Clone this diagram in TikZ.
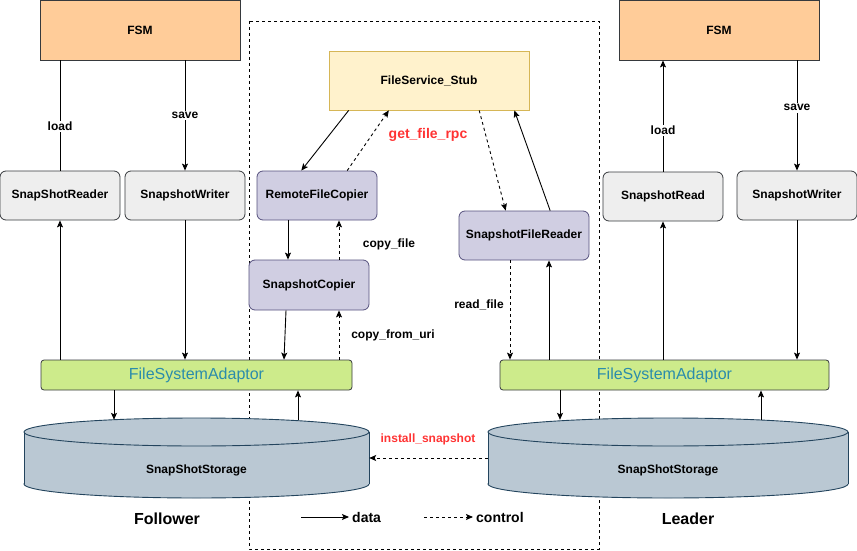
\documentclass[tikz,border=0pt]{standalone}
\usepackage{fontspec}
\setmainfont{Liberation Sans}
\usetikzlibrary{arrows.meta,calc}

\definecolor{fsmfill}{HTML}{FFCC99}
\definecolor{darkline}{HTML}{36393D}
\definecolor{greyfill}{HTML}{EEEEEE}
\definecolor{copyfill}{HTML}{D0CEE2}
\definecolor{copyline}{HTML}{56517E}
\definecolor{stubfill}{HTML}{FFF2CC}
\definecolor{stubline}{HTML}{D6B656}
\definecolor{fsafill}{HTML}{CDEB8B}
\definecolor{fsatext}{HTML}{2B8CAB}
\definecolor{storefill}{HTML}{BAC8D3}
\definecolor{storeline}{HTML}{23445D}
\definecolor{rpcred}{HTML}{FF3333}

\tikzset{
  box/.style={draw=darkline, line width=0.8pt, inner sep=0pt, align=center},
  fsm/.style={box, fill=fsmfill, minimum width=200, minimum height=60},
  grey/.style={box, fill=greyfill, rounded corners=6pt, minimum width=120, minimum height=49},
  copybox/.style={box, draw=copyline, fill=copyfill, rounded corners=6pt, minimum width=120, minimum height=49},
  stubbox/.style={box, draw=stubline, fill=stubfill, minimum width=200, minimum height=59},
  fsa/.style={box, fill=fsafill, rounded corners=3pt, minimum height=30, text=fsatext,
    font=\fontsize{16}{18}\selectfont},
  store/.style={inner sep=0pt, minimum height=76},
  data/.style={-{Stealth[length=7pt,width=6pt,inset=1.5pt]}, line width=0.9pt},
  ctrl/.style={data, dash pattern=on 3pt off 3pt},
  lbl/.style={fill=white, inner sep=1.5pt},
  rpclbl/.style={text=rpcred},
  legend/.style={font=\fontsize{14}{16}\selectfont\bfseries, inner sep=3pt},
  side/.style={font=\fontsize{16}{18}\selectfont\bfseries}
}

\begin{document}
\begin{tikzpicture}[x=1pt, y=-1pt, every node/.style={font=\fontsize{12}{14}\selectfont\bfseries}]
\useasboundingbox (0,0) rectangle (857,551);

\draw[dash pattern=on 3pt off 3pt, line width=0.8pt] (249,21) rectangle (599,549);

% storage cylinders
\foreach \cx/\rx in {196.5/172.5, 668/180}{
  \filldraw[fill=storefill, draw=storeline, line width=0.9pt] (\cx,484) ellipse[x radius=\rx, y radius=14];
  \fill[storefill] (\cx-\rx,432) rectangle (\cx+\rx,484);
  \draw[storeline, line width=0.9pt] (\cx-\rx,432) -- (\cx-\rx,484) (\cx+\rx,432) -- (\cx+\rx,484);
  \filldraw[fill=storefill, draw=storeline, line width=0.9pt] (\cx,432) ellipse[x radius=\rx, y radius=14];
}
\node[store, minimum width=345, label={[yshift=-12pt]center:SnapShotStorage}] (storeL) at (196.5,458) {};
\node[store, minimum width=360, label={[yshift=-12pt]center:SnapShotStorage}] (storeR) at (668,458) {};

\node[fsm] (fsmL) at (140,30) {FSM};
\node[fsm] (fsmR) at (719,30) {FSM};
\node[grey] (readL) at (60,195.5) {SnapShotReader};
\node[grey] (writeL) at (185,195.5) {SnapshotWriter};
\node[grey] (readR) at (663,196.5) {SnapshotRead};
\node[grey] (writeR) at (797,195.5) {SnapshotWriter};
\node[stubbox] (stub) at (429,80.5) {FileService\_Stub};
\node[copybox] (remote) at (317,195.5) {RemoteFileCopier};
\node[copybox, minimum height=50] (copier) at (309,285) {SnapshotCopier};
\node[copybox, minimum width=130] (freader) at (524,235.5) {SnapshotFileReader};
\node[fsa, minimum width=311] (fsaL) at (196.5,375) {FileSystemAdaptor};
\node[fsa, minimum width=329] (fsaR) at (664.5,375) {FileSystemAdaptor};

% follower
\draw[line width=0.9pt] (readL.north) -- (readL.north |- fsmL.south) node[lbl, pos=0.4] {load};
\draw[data] (fsmL.south -| writeL) -- (writeL.north) node[lbl, midway] {save};
\draw[data] (readL.south |- fsaL.north) -- (readL.south);
\draw[data] (writeL.south) -- (writeL.south |- fsaL.north);
\draw[data] ([xshift=-82.5pt]fsaL.south) -- ([xshift=-82.5pt]fsaL.south |- storeL.north);
\draw[data] ([xshift=101.5pt]fsaL.south |- storeL.north) -- ([xshift=101.5pt]fsaL.south);

% copy path
\draw[data] ($(stub.south west)!0.1!(stub.south east)$) -- ($(remote.north west)!0.37!(remote.north east)$);
\draw[ctrl] ($(remote.north west)!0.75!(remote.north east)$) -- ($(stub.south west)!0.3!(stub.south east)$);
\draw[ctrl] ($(stub.south west)!0.75!(stub.south east)$) -- ($(freader.north west)!0.36!(freader.north east)$);
\draw[data] ($(freader.north west)!0.7!(freader.north east)$) -- ($(stub.south west)!0.925!(stub.south east)$);
\node[rpclbl, font=\fontsize{14}{16}\selectfont\bfseries] (rpc) at (428,135) {get\_file\_rpc};
\draw[data] ([xshift=-29pt]remote.south) -- ([xshift=-29pt]remote.south |- copier.north);
\draw[ctrl] ([xshift=22pt]remote.south |- copier.north) -- ([xshift=22pt]remote.south);
\node (cpfile) at (389,244) {copy\_file};
\draw[data] ([xshift=-23pt]copier.south) -- ([xshift=87.5pt]fsaL.north);
\draw[ctrl] ([xshift=142.5pt]fsaL.north) -- ([xshift=142.5pt]fsaL.north |- copier.south);
\node (cpuri) at (393,335) {copy\_from\_uri};

% leader
\draw[data] (readR.north) -- (readR.north |- fsmR.south) node[lbl, pos=0.37] {load};
\draw[data] (fsmR.south -| writeR) -- (writeR.north) node[lbl, pos=0.43] {save};
\draw[data] (readR.south |- fsaR.north) -- (readR.south);
\draw[data] (writeR.south) -- (writeR.south |- fsaR.north);
\draw[data] ([xshift=25pt]freader.south |- fsaR.north) -- ([xshift=25pt]freader.south);
\draw[ctrl] ([xshift=-14pt]freader.south) -- ([xshift=-14pt]freader.south |- fsaR.north);
\node (rdfile) at (479,305) {read\_file};
\draw[data] ([xshift=-104.5pt]fsaR.south) -- ([xshift=-104.5pt]fsaR.south |- storeR.north);
\draw[data] ([xshift=96.5pt]fsaR.south |- storeR.north) -- ([xshift=96.5pt]fsaR.south);

\draw[ctrl] (storeR.west) -- (storeL.east);
\node[rpclbl] (install) at (428,439) {install\_snapshot};

% legend
\node[side] (follower) at (167,519) {Follower};
\node[side] (leader) at (688,519) {Leader};
\coordinate (dataA) at (301,517);
\node[legend, anchor=west] (dataT) at (349,517) {data};
\draw[data] (dataA) -- (dataT);
\coordinate (ctrlA) at (424,517);
\node[legend, anchor=west] (ctrlT) at (473,517) {control};
\draw[ctrl] (ctrlA) -- (ctrlT);
\end{tikzpicture}
\end{document}
